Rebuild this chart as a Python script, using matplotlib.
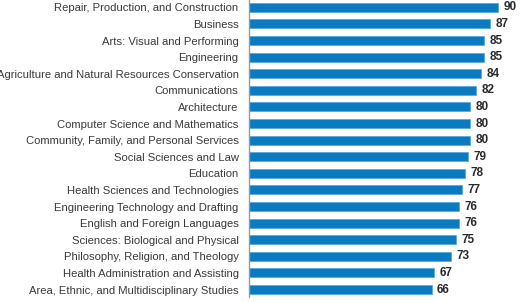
import matplotlib
matplotlib.use("Agg")
import matplotlib.pyplot as plt

categories = [
    "Repair, Production, and Construction",
    "Business",
    "Arts: Visual and Performing",
    "Engineering",
    "Agriculture and Natural Resources Conservation",
    "Communications",
    "Architecture",
    "Computer Science and Mathematics",
    "Community, Family, and Personal Services",
    "Social Sciences and Law",
    "Education",
    "Health Sciences and Technologies",
    "Engineering Technology and Drafting",
    "English and Foreign Languages",
    "Sciences: Biological and Physical",
    "Philosophy, Religion, and Theology",
    "Health Administration and Assisting",
    "Area, Ethnic, and Multidisciplinary Studies",
]
values = [90, 87, 85, 85, 84, 82, 80, 80, 80, 79, 78, 77, 76, 76, 75, 73, 67, 66]

plt.rcParams['font.family'] = ['Liberation Sans', 'DejaVu Sans']

fig = plt.figure(figsize=(5.22, 3.02), dpi=100)
ax = fig.add_axes([249 / 522, 5 / 302, 273 / 522, 297 / 302])

pos = list(range(len(categories)))
ax.barh(pos, values, height=0.54, color='#0b7bc1', edgecolor='#5aaade', linewidth=0.6)

# value labels at the end of each bar
for p, v in zip(pos, values):
    ax.text(v + 2.0, p, str(v), va='center', ha='left', fontsize=8.5,
            fontweight='bold', color='#2a2a2a')

ax.set_yticks(pos)
ax.set_yticklabels(categories, fontsize=8.1, color='#3a3a3a')
ax.tick_params(axis='y', length=0, pad=7.5)
ax.set_xticks([])
ax.set_xlim(0, 98.7)
ax.set_ylim(len(categories) - 0.55, -0.44)

for s in ['top', 'right', 'bottom']:
    ax.spines[s].set_visible(False)
ax.spines['left'].set_color('#999999')
ax.spines['left'].set_linewidth(1)

fig.savefig("out.png", dpi=100)
